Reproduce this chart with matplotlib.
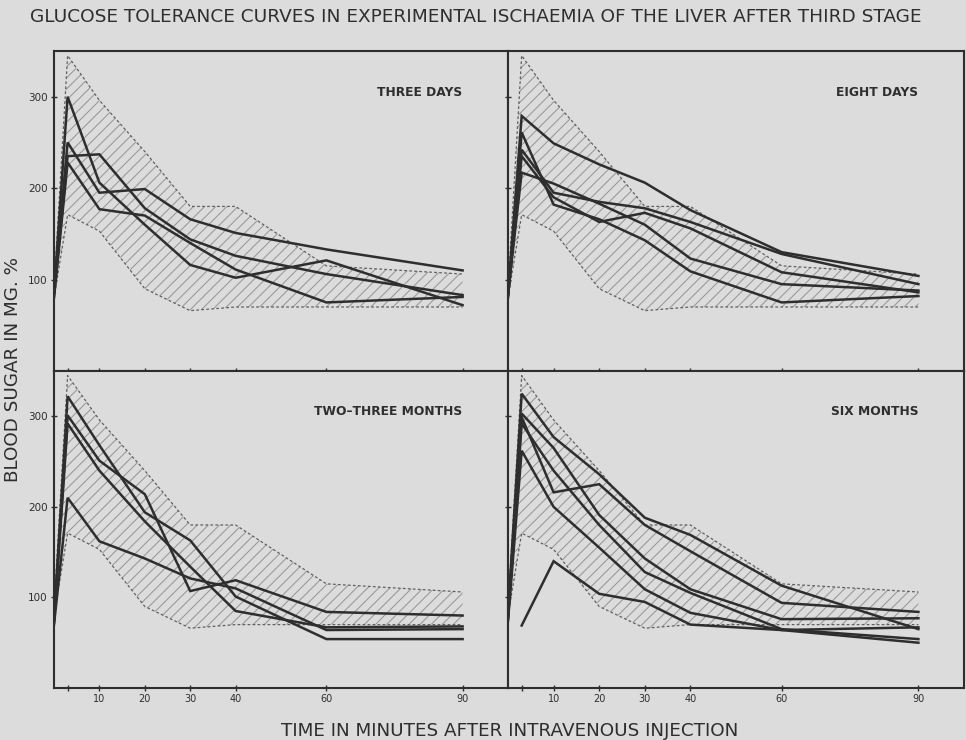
import matplotlib.pyplot as plt
import numpy as np

# sampling times (minutes after injection)
minutes = [0, 3, 10, 20, 30, 40, 60, 90]

# normal range (hatched band), same in every panel
normal_upper = [90, 345, 296, 240, 180, 180, 115, 106]
normal_lower = [80, 171, 153, 90, 66, 70, 70, 70]

three_days = [
    [85, 300, 206, 160, 116, 102, 121, 72],
    [88, 250, 195, 199, 166, 151, 133, 110],
    [82, 235, 237, 178, 144, 126, 106, 83],
    [80, 228, 177, 170, 140, 111, 75, 81],
]
eight_days = [
    [85, 279, 249, 226, 206, 176, 130, 104],
    [80, 261, 182, 166, 143, 109, 75, 82],
    [83, 242, 195, 185, 178, 163, 128, 95],
    [82, 235, 190, 163, 173, 156, 108, 86],
    [84, 217, 205, 183, 160, 123, 95, 88],
]
two_three_months = [
    [75, 301, 251, 214, 107, 119, 84, 80],
    [75, 322, 268, 194, 163, 101, 54, 54],
    [72, 292, 240, 184, 134, 85, 67, 68],
    [70, 210, 162, 143, 121, 110, 64, 65],
]
six_months = [
    [82, 325, 277, 236, 188, 169, 113, 65],
    [80, 299, 216, 225, 180, 151, 94, 84],
    [78, 303, 265, 191, 143, 109, 76, 77],
    [76, 292, 240, 180, 128, 105, 65, 54],
    [74, 262, 200, 155, 109, 83, 64, 50],
    [np.nan, 69, 140, 104, 95, 70, 64, 67],
]

panel_titles = ["THREE DAYS", "EIGHT DAYS", "TWO\u2013THREE MONTHS", "SIX MONTHS"]
panel_curves = [three_days, eight_days, two_three_months, six_months]

tick_minutes = [3, 10, 20, 30, 40, 60, 90]
tick_labels = ["", "10", "20", "30", "40", "60", "90"]
sugar_ticks = [100, 200, 300]

paper = "#dcdcdc"
ink = "#2e2e2e"

W, H = 966, 740
fig = plt.figure(figsize=(W / 100, H / 100), dpi=100, facecolor=paper)
plt.rcParams["hatch.linewidth"] = 0.75

# panel boxes in pixels: left, top, right, bottom
boxes = [(54, 51, 508, 371), (508, 51, 964, 371),
         (54, 371, 508, 688), (508, 371, 964, 688)]

for i, (box, title, curves) in enumerate(zip(boxes, panel_titles, panel_curves)):
    l, t, r, b = box
    ax = fig.add_axes([l / W, 1 - b / H, (r - l) / W, (b - t) / H])
    ax.set_facecolor(paper)
    ax.set_xlim(0, 100)
    ax.set_ylim(0, 350)

    ax.fill_between(minutes, normal_lower, normal_upper, facecolor="none",
                    edgecolor="#979797", hatch="///", linewidth=0)
    ax.plot(minutes, normal_upper, color="#606060", lw=0.9, ls=(0, (2.2, 1.8)))
    ax.plot(minutes, normal_lower, color="#606060", lw=0.9, ls=(0, (2.2, 1.8)))

    for c in curves:
        ax.plot(minutes, c, color=ink, lw=1.8, solid_joinstyle="miter")

    ax.text(90, 305, title, ha="right", va="center", fontsize=8.8,
            fontweight="bold", color=ink)

    for s in ax.spines.values():
        s.set_linewidth(1.5)
        s.set_color(ink)

    ax.set_xticks(tick_minutes)
    ax.set_yticks(sugar_ticks)
    ax.tick_params(direction="inout", length=5, width=1, colors=ink, pad=2)
    ax.tick_params(axis="x", labelsize=7)
    ax.tick_params(axis="y", labelsize=7.5)
    if i >= 2:
        ax.set_xticklabels(tick_labels)
    else:
        ax.set_xticklabels([])
    if i % 2 == 0:
        ax.set_yticklabels([str(v) for v in sugar_ticks])
    else:
        ax.set_yticklabels([])

fig.text(30 / W, 1 - 17 / H,
         "GLUCOSE TOLERANCE CURVES IN EXPERIMENTAL ISCHAEMIA OF THE LIVER AFTER THIRD STAGE",
         ha="left", va="center", fontsize=13.3, color=ink)
fig.text(13 / W, 1 - 370 / H, "BLOOD SUGAR IN MG. %", rotation=90,
         ha="center", va="center", fontsize=13.2, color=ink)
fig.text(510 / W, 1 - 731 / H, "TIME IN MINUTES AFTER INTRAVENOUS INJECTION",
         ha="center", va="center", fontsize=13.2, color=ink)

fig.savefig("out.png", dpi=100, facecolor=paper)
